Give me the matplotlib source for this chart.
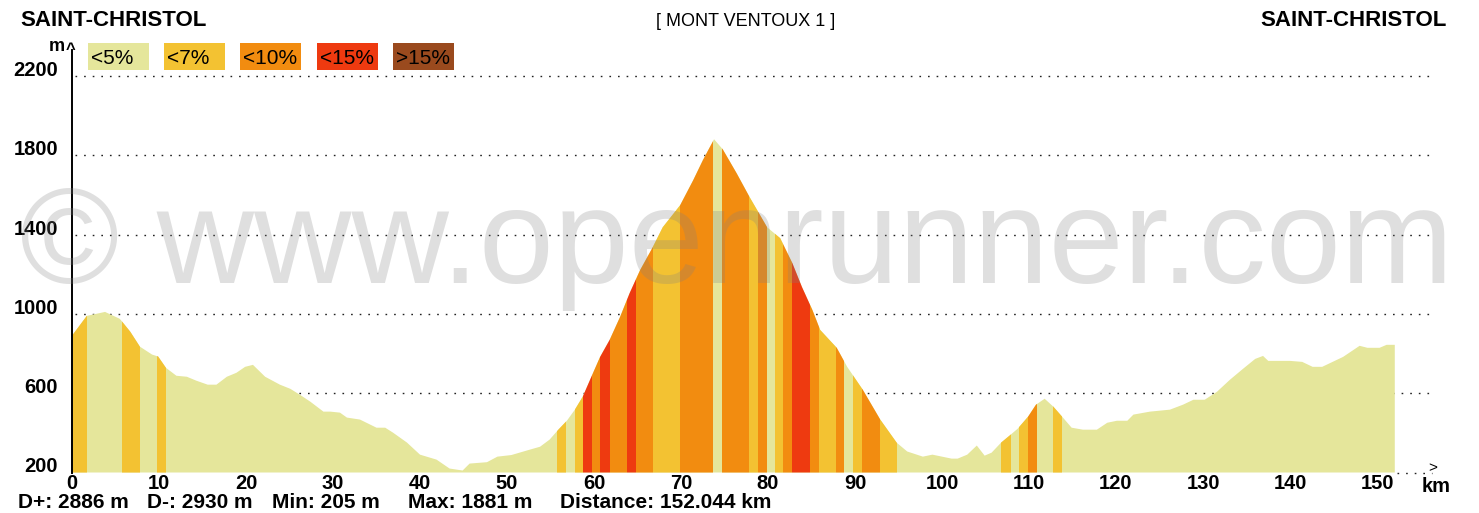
import matplotlib
matplotlib.use("Agg")
import matplotlib.pyplot as plt
from matplotlib.patches import Polygon, Rectangle
import numpy as np

# ---------------- data ----------------
km = [0, 1.7, 3.8, 5.5, 6.7, 7.8, 9.2, 9.9, 10.8, 12.0, 13.2, 14.3, 15.6, 16.6,
      17.8, 18.9, 19.9, 20.8, 22.2, 23.9, 25.1, 26.2, 27.4, 28.9, 29.7, 30.8,
      31.6, 33.1, 35.0, 36.0, 36.9, 38.5, 40.0, 41.9, 43.4, 44.9, 45.7, 47.7,
      48.9, 50.5, 52.6, 53.8, 54.9, 55.9, 56.9, 57.8, 58.7, 59.8, 60.7, 61.8,
      63.0, 64.1, 65.3, 66.7, 67.9, 69.9, 71.4, 72.5, 73.8, 74.8, 76.4, 77.9,
      79.9, 81.4, 82.8, 83.9, 85.1, 86.0, 87.9, 89.1, 90.9, 92.9, 94.8, 96.0,
      97.8, 98.9, 100.0, 101.1, 101.8, 102.9, 104.0, 104.9, 105.7, 106.8,
      107.9, 108.7, 109.9, 110.8, 111.8, 112.8, 113.8, 114.9, 116.2, 117.8,
      119.0, 120.1, 121.3, 122.0, 123.9, 126.2, 127.7, 128.9, 130.2, 131.6,
      133.1, 134.6, 136.0, 136.9, 137.5, 140.0, 141.4, 142.6, 143.7, 144.9,
      146.1, 148.0, 148.9, 150.3, 151.1, 152.044]
elev = [890, 990, 1010, 975, 910, 835, 795, 785, 728, 688, 683, 663, 643, 643,
        683, 703, 733, 743, 683, 643, 622, 592, 557, 507, 507, 502,
        477, 467, 426, 426, 401, 351, 290, 265, 220, 210, 245, 252,
        280, 288, 315, 330, 366, 416, 462, 517, 582, 693, 783, 869,
        985, 1105, 1221, 1332, 1437, 1548, 1674, 1774, 1881, 1830, 1709, 1588,
        1437, 1382, 1256, 1136, 1020, 919, 829, 733, 617, 467, 350, 306,
        280, 290, 280, 270, 270, 290, 336, 285, 300, 351,
        391, 421, 482, 542, 572, 532, 482, 426, 416, 416,
        451, 461, 461, 492, 507, 517, 542, 567, 567, 607,
        668, 723, 773, 788, 763, 763, 758, 733, 733, 758,
        783, 839, 829, 829, 844, 844]

# gradient bands: start km, end km, class (0:<5%, 1:<7%, 2:<10%, 3:<15%)
band_start = [0, 1.7, 5.7, 7.8, 9.8, 10.8, 55.75, 56.8, 57.8, 58.7, 59.8, 60.7,
              61.8, 63.8, 64.8, 66.8, 69.9, 73.7, 74.7, 77.8, 78.9, 79.9, 80.8,
              81.7, 82.8, 84.8, 85.9, 87.8, 88.7, 89.8, 90.8, 92.9, 94.8,
              106.8, 107.9, 108.9, 109.9, 110.9, 112.8, 113.8]
band_end = band_start[1:] + [152.044]
band_class = [1, 0, 1, 0, 1, 0, 1, 0, 1, 3, 2, 3,
              2, 3, 2, 1, 2, 0, 2, 1, 2, 0, 1,
              2, 3, 2, 1, 2, 0, 1, 2, 1, 0,
              1, 0, 1, 2, 0, 1, 0]

legend_labels = ["<5%", "<7%", "<10%", "<15%", ">15%"]
class_colors = ["#e5e69b", "#f3c232", "#f28c10", "#ee3a10", "#9a4a1e"]

yticks = [200, 600, 1000, 1400, 1800, 2200]
xticks = list(range(0, 151, 10))

stats = ["D+: 2886 m", "D-: 2930 m", "Min: 205 m", "Max: 1881 m",
         "Distance: 152.044 km"]
title_left = "SAINT-CHRISTOL"
title_right = "SAINT-CHRISTOL"
title_mid = "[ MONT VENTOUX 1 ]"

# ---------------- figure ----------------
W, H = 1479, 513
FONT = "Liberation Sans"
plt.rcParams['font.family'] = [FONT, 'DejaVu Sans']
fig = plt.figure(figsize=(W / 100, H / 100), dpi=100)
fig.patch.set_facecolor("white")

px_km = 8.70
x0_px, ybot_px, ytop_px, xr_px = 72, 472.5, 50, 1440
ymax = 200 + (ybot_px - ytop_px) / 79.3 * 400
ax = fig.add_axes([x0_px / W, (H - ybot_px) / H, (xr_px - x0_px) / W,
                   (ybot_px - ytop_px) / H])
ax.set_xlim(0, (xr_px - x0_px) / px_km)
ax.set_ylim(200, ymax)
ax.set_facecolor("none")
for s in ["top", "right", "bottom"]:
    ax.spines[s].set_visible(False)
ax.spines["left"].set_color("black")
ax.spines["left"].set_linewidth(1.4)
ax.spines["left"].set_zorder(6)

# dotted grid lines
dots = (0, (1.2, 5.0))
ax.hlines(yticks[1:], 0.4, 156.0, colors="#222222", linestyles=dots,
          linewidth=1.0, zorder=1)
ax.hlines([200], 152.3, 156.3, colors="#222222", linestyles=dots,
          linewidth=1.0, zorder=1, clip_on=False)

# profile polygon
verts = list(zip(km, elev)) + [(km[-1], 200), (km[0], 200)]
prof = Polygon(verts, closed=True, facecolor=class_colors[0],
               edgecolor="none", zorder=2)
ax.add_patch(prof)

# gradient bands clipped to the profile
for s, e, c in zip(band_start, band_end, band_class):
    if c == 0:
        continue
    bars = ax.bar([s], [ymax - 200], width=[e - s], bottom=200, align="edge",
                  color=class_colors[c], linewidth=0, zorder=3)
    for b in bars:
        b.set_clip_path(prof)

# ticks
ax.set_yticks(yticks)
ax.set_yticklabels([str(v) for v in yticks])
ax.set_xticks(xticks)
ax.set_xticklabels([str(v) for v in xticks])
ax.tick_params(axis="both", length=0, labelsize=14.5, colors="black")
ax.tick_params(axis="y", pad=10)
ax.tick_params(axis="x", pad=1.0)
for lab in ax.get_yticklabels():
    lab.set_fontweight("bold")
    lab.set_va("baseline")
for lab in ax.get_xticklabels():
    lab.set_fontweight("bold")

def ftext(x, y, s, **kw):
    return fig.text(x / W, 1 - y / H, s, **kw)

# watermark
ftext(737, 283, "\u00a9 www.openrunner.com", fontsize=97, color=(0.5, 0.5, 0.5),
      alpha=0.25, ha="center", va="baseline", zorder=10, family=FONT)

# titles
ftext(20, 21, title_left, fontsize=16, fontweight="bold", ha="left", va="center")
ftext(1447, 21, title_right, fontsize=16, fontweight="bold", ha="right", va="center")
ftext(746, 21, title_mid, fontsize=13, ha="center", va="center")

# axis captions
ftext(57, 47, "m", fontsize=13, fontweight="bold", ha="center", va="center")
ftext(71, 50, "^", fontsize=12, fontweight="bold", ha="center", va="center")
ftext(1433, 468, ">", fontsize=11, ha="center", va="center")
ftext(1436, 486, "km", fontsize=14.5, fontweight="bold", ha="center", va="center")

# legend boxes
box_x = [88, 164, 240, 317, 393]
for bx, lab, col in zip(box_x, legend_labels, class_colors):
    fig.patches.append(Rectangle((bx / W, 1 - 70 / H), 61 / W, 27 / H,
                                 transform=fig.transFigure, facecolor=col,
                                 edgecolor="none", zorder=5))
    ftext(bx + 3, 58, lab, fontsize=15, ha="left", va="center", zorder=6)

# statistics
stat_x = [18, 147, 272, 408, 560]
for sx, st in zip(stat_x, stats):
    ftext(sx, 502, st, fontsize=15, fontweight="bold", ha="left", va="center")

fig.savefig("out.png", dpi=100, facecolor="white")
